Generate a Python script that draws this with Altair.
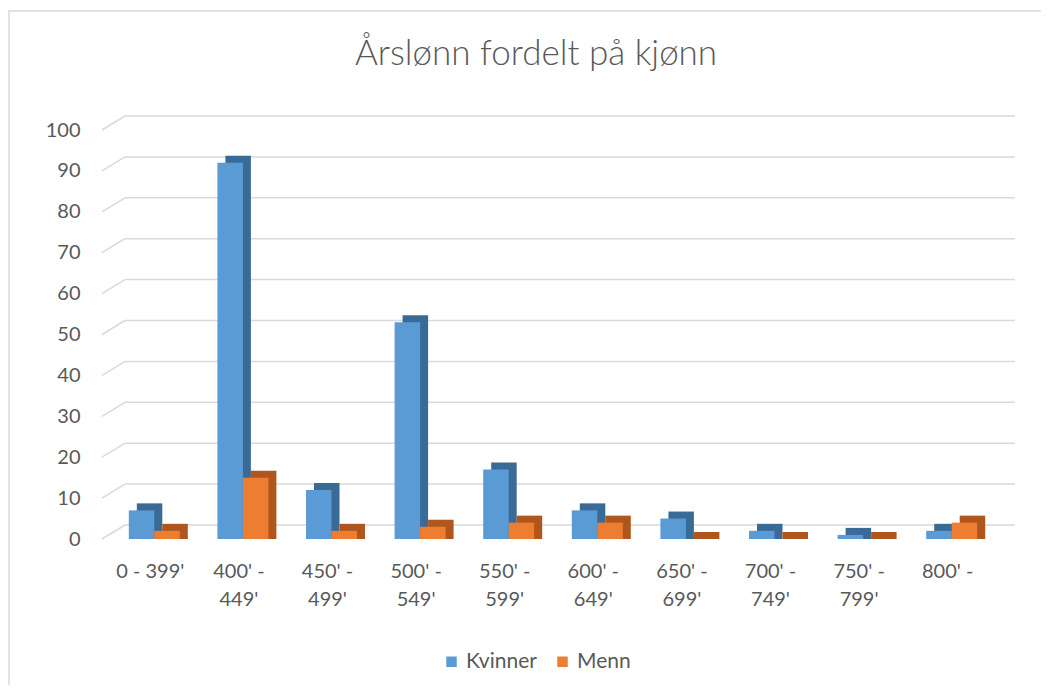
import altair as alt
import pandas as pd

categories = ["0 - 399'", "400' - 449'", "450' - 499'", "500' - 549'", "550' - 599'",
              "600' - 649'", "650' - 699'", "700' - 749'", "750' - 799'", "800' -"]
kvinner = [7, 92, 12, 53, 17, 7, 5, 2, 1, 2]
menn = [2, 15, 2, 3, 4, 4, 0, 0, 0, 4]
series = ["Kvinner", "Menn"]
y_ticks = list(range(0, 101, 10))

front_colors = ["#5B9BD5", "#ED7D31"]
side_colors = ["#3A6A96", "#B0561C"]

rows = []
for c, k, m in zip(categories, kvinner, menn):
    rows.append({"cat": c, "series": "Kvinner", "value": k})
    rows.append({"cat": c, "series": "Menn", "value": m})
df = pd.DataFrame(rows)
grid_df = pd.DataFrame({"v": y_ticks})
frame_df = pd.DataFrame({"f": [0]})

W, H = 886, 409
FONT = "Lato"
TXT = "#595959"
GRID = "#D9D9D9"
BW = 25.5   # bar width (px)
DX, DY = 8, 7  # depth of the 3-D effect (px)
SHIFT = 4

yscale = alt.Scale(domain=[0, 100], nice=False, zero=True)
xscale = alt.Scale(paddingInner=0, paddingOuter=0)

label_expr = ("indexof(datum.label, \"' - \") > 0 && length(datum.label) > 7 ? "
              "[slice(datum.label, 0, 6), slice(datum.label, 7)] : datum.label")

frame = alt.Chart(frame_df).mark_rect(fill=None, stroke=GRID, strokeWidth=1.5).encode(
    x=alt.value(-97), x2=alt.value(W + 60),
    y=alt.value(-119), y2=alt.value(H + 200),
)

grid = alt.Chart(grid_df).mark_rule(color=GRID, strokeWidth=1.5, yOffset=-14).encode(
    y=alt.Y("v:Q", scale=yscale, title=None,
            axis=alt.Axis(values=y_ticks, title=None)),
    x=alt.value(19),
    x2=alt.value(W + 23),
)

stubs = alt.Chart(grid_df).mark_rule(color=GRID, strokeWidth=1.5, y2Offset=-14).encode(
    y=alt.Y("v:Q", scale=yscale, title=None),
    y2=alt.Y2("v:Q"),
    x=alt.value(-4),
    x2=alt.value(19),
)


def bar_layer(name, idx, back):
    off = (-BW / 2 if idx == 0 else BW / 2) + SHIFT
    base = alt.Chart(df).transform_filter(alt.datum.series == name)
    xenc = alt.X("cat:N", sort=categories, scale=xscale, title=None,
                 axis=alt.Axis(labelExpr=label_expr, title=None))
    if back:
        return base.mark_bar(width=BW, xOffset=off + DX, yOffset=-DY,
                             color=side_colors[idx]).encode(
            x=xenc,
            y=alt.Y("value:Q", scale=yscale, title=None),
            y2=alt.datum(0),
        )
    return base.mark_bar(width=BW, xOffset=off).encode(
        x=xenc,
        y=alt.Y("value:Q", scale=yscale, title=None),
        color=alt.Color("series:N", sort=series,
                        scale=alt.Scale(domain=series, range=front_colors),
                        legend=alt.Legend(title=None, orient="none", direction="horizontal",
                                          legendX=335, legendY=521, padding=0,
                                          symbolType="square", symbolSize=110,
                                          symbolStrokeWidth=0, labelFont=FONT,
                                          labelFontSize=21, labelColor=TXT,
                                          columnPadding=15, labelOffset=4)),
    )


layers = [frame, grid, stubs,
          bar_layer("Kvinner", 0, True), bar_layer("Menn", 1, True),
          bar_layer("Kvinner", 0, False), bar_layer("Menn", 1, False)]

chart = alt.layer(*layers).properties(
    width=W, height=H,
    background="white",
    title=alt.TitleParams("Årslønn fordelt på kjønn", font=FONT, fontSize=35,
                          fontWeight=300, color=TXT, anchor="middle", dx=-13, offset=-62),
    autosize=alt.AutoSizeParams(type="none"),
    padding={"left": 98, "top": 122, "right": 49, "bottom": 146},
).configure_view(stroke=None).configure_axisY(
    grid=False, domain=False, ticks=False, tickSize=0, labelPadding=26,
    labelFont=FONT, labelFontSize=20, labelColor=TXT,
).configure_axisX(
    grid=False, domain=False, ticks=False, tickSize=0, labelAngle=0, labelPadding=22,
    labelFont=FONT, labelFontSize=20, labelColor=TXT, labelLineHeight=28,
    labelBaseline="top",
)

chart.save("out.html", embed_options={"renderer": "svg", "actions": False})
